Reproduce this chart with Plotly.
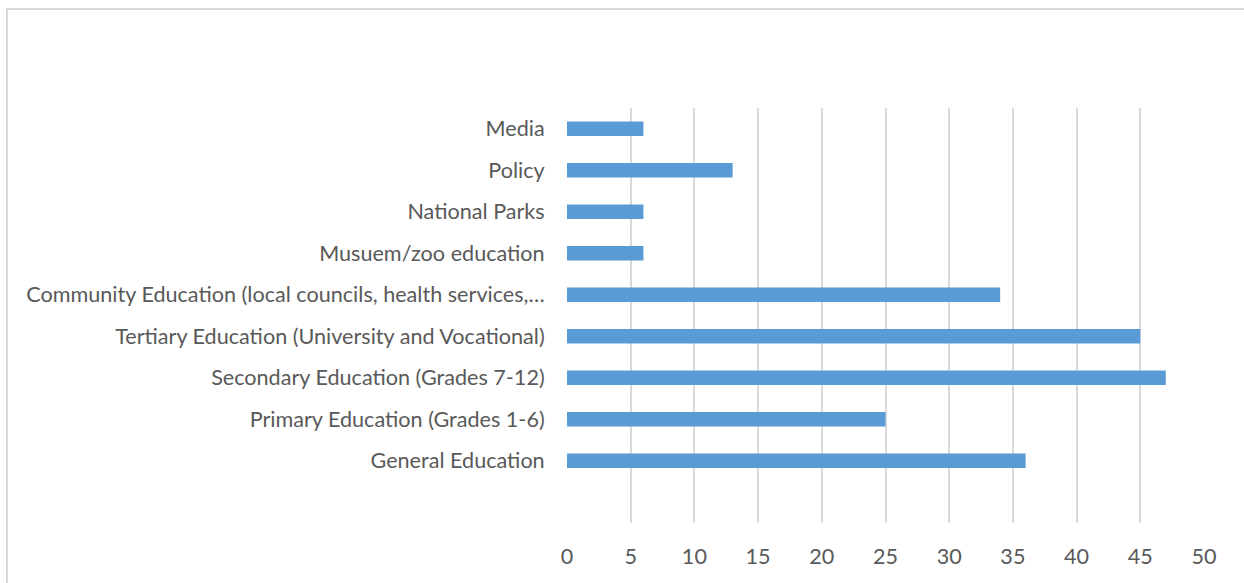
import plotly.graph_objects as go

# Categories listed bottom-to-top as drawn on the axis
categories = [
    "General Education",
    "Primary Education (Grades 1-6)",
    "Secondary Education (Grades 7-12)",
    "Tertiary Education (University and Vocational)",
    "Community Education (local councils, health services,…",
    "Musuem/zoo education",
    "National Parks",
    "Policy",
    "Media",
]
counts = [36, 25, 47, 45, 34, 6, 6, 13, 6]
x_ticks = [0, 5, 10, 15, 20, 25, 30, 35, 40, 45, 50]

W, H = 1244, 583
ml, mr, mt, mb = 567, 40, 108, 60
pw, ph = W - ml - mr, H - mt - mb

fig = go.Figure(
    go.Bar(
        x=counts,
        y=categories,
        orientation="h",
        marker=dict(color="#5b9bd5", line=dict(width=0)),
        hoverinfo="x+y",
    )
)

text_font = dict(family="Lato, Calibri, sans-serif", size=21.6, color="#595959")

fig.update_layout(
    width=W,
    height=H,
    margin=dict(l=ml, r=mr, t=mt, b=mb),
    paper_bgcolor="white",
    plot_bgcolor="white",
    bargap=0.655,
    showlegend=False,
    font=text_font,
    xaxis=dict(
        range=[0, 50],
        tickvals=x_ticks,
        ticktext=[str(v) for v in x_ticks],
        showgrid=True,
        gridcolor="#d9d9d9",
        gridwidth=1.5,
        zeroline=False,
        showline=False,
        ticks="outside",
        ticklen=14,
        tickcolor="rgba(0,0,0,0)",
        tickfont=text_font,
        fixedrange=True,
    ),
    yaxis=dict(
        type="category",
        categoryorder="array",
        categoryarray=categories,
        range=[-1.5, len(categories) - 0.5],
        showgrid=False,
        zeroline=False,
        showline=False,
        ticks="outside",
        ticklen=17,
        tickcolor="rgba(0,0,0,0)",
        tickfont=text_font,
        fixedrange=True,
    ),
)

# Light chart-area frame (top and left edges visible in the window)
fx0 = (7 - ml) / pw
fy1 = (H - mb - 9) / ph
fig.add_shape(
    type="rect",
    xref="paper",
    yref="paper",
    x0=fx0,
    x1=(W + 20 - ml) / pw,
    y0=-(mb + 20) / ph,
    y1=fy1,
    line=dict(color="#d9d9d9", width=2),
    fillcolor="rgba(0,0,0,0)",
    layer="below",
)

fig.write_html("out.html")
